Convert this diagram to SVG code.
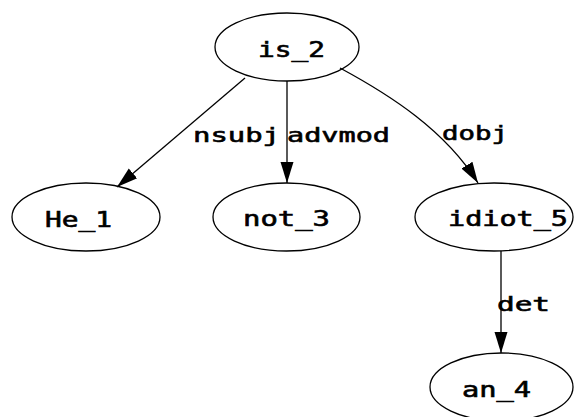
<svg xmlns="http://www.w3.org/2000/svg" width="582" height="417" viewBox="0 0 582 417">
  <style>
    .node ellipse { fill: none; stroke: #000; stroke-width: 1.3; }
    .node text { font-family: "DejaVu Sans Mono", "Liberation Mono", monospace; font-size: 21px; fill: #000; stroke: #000; stroke-width: 0.6; }
    .edge { fill: none; stroke: #000; stroke-width: 1.3; marker-end: url(#arrow); }
    .label { font-family: "DejaVu Sans Mono", "Liberation Mono", monospace; font-size: 20px; fill: #000; stroke: #000; stroke-width: 0.6; }
  </style>
  <defs>
    <marker id="arrow" markerUnits="userSpaceOnUse" markerWidth="21" markerHeight="16" refX="21" refY="8" orient="auto">
      <path d="M0,1.5 L21,8 L0,14.5 Z" fill="#000"/>
    </marker>
  </defs>
  <rect width="582" height="417" fill="#fff"/>

  <!-- dependency arcs and their relation labels -->
  <g id="edges">
    <path class="edge" d="M245,78 L117,187"/>
    <path class="edge" d="M287,81 L287,183"/>
    <path class="edge" d="M340,68 C390,95 445,130 478,183"/>
    <path class="edge" d="M501,251 L501,353"/>
    <text class="label" x="193" y="142" textLength="87" lengthAdjust="spacingAndGlyphs">nsubj</text>
    <text class="label" x="287" y="142" textLength="103" lengthAdjust="spacingAndGlyphs">advmod</text>
    <text class="label" x="442" y="140" textLength="66" lengthAdjust="spacingAndGlyphs">dobj</text>
    <text class="label" x="497" y="311" textLength="53" lengthAdjust="spacingAndGlyphs">det</text>
  </g>

  <g id="is_2" class="node">
    <ellipse cx="287" cy="47" rx="72" ry="34"/>
    <text x="258" y="57" textLength="67" lengthAdjust="spacingAndGlyphs">is_2</text>
  </g>
  <g id="He_1" class="node">
    <ellipse cx="86" cy="217" rx="74" ry="34"/>
    <text x="45" y="227" textLength="67" lengthAdjust="spacingAndGlyphs">He_1</text>
  </g>
  <g id="not_3" class="node">
    <ellipse cx="286.5" cy="217" rx="73.5" ry="34"/>
    <text x="243" y="226" textLength="87" lengthAdjust="spacingAndGlyphs">not_3</text>
  </g>
  <g id="idiot_5" class="node">
    <ellipse cx="494" cy="217" rx="79" ry="34"/>
    <text x="448" y="226" textLength="120" lengthAdjust="spacingAndGlyphs">idiot_5</text>
  </g>
  <g id="an_4" class="node">
    <ellipse cx="501.5" cy="387" rx="71.5" ry="34"/>
    <text x="462" y="397" textLength="69" lengthAdjust="spacingAndGlyphs">an_4</text>
  </g>
</svg>
